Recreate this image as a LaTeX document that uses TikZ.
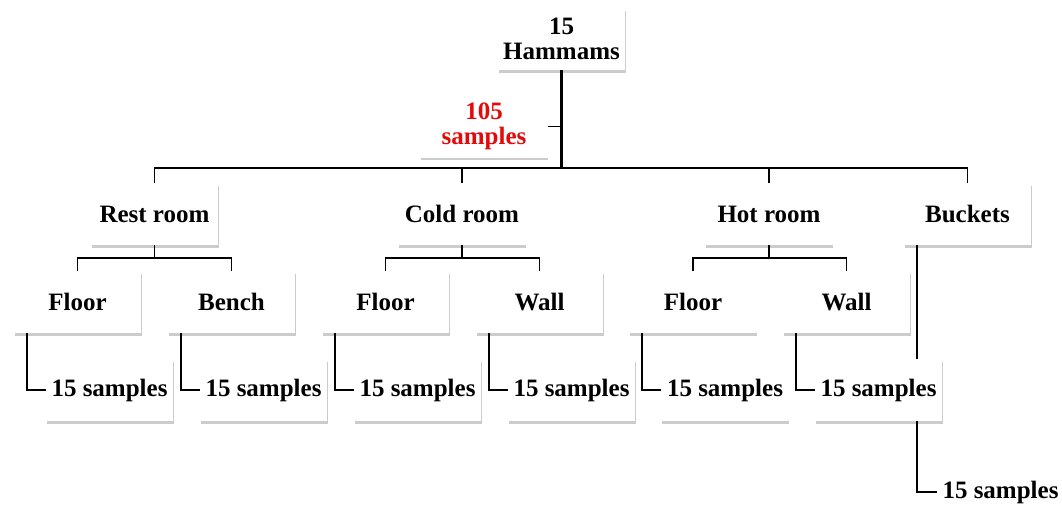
\documentclass[tikz,border=0pt]{standalone}
\usepackage{fontspec}
\setmainfont{Liberation Serif}
\usetikzlibrary{shadows,calc}
\definecolor{sampred}{RGB}{228,10,10}
\begin{document}
\begin{tikzpicture}[x=1pt,y=-1pt,
  box/.style={fill=white,minimum width=127pt,minimum height=62pt,inner sep=0pt,align=center,
    font=\fontsize{25}{25}\selectfont\bfseries,
    drop shadow={shadow xshift=0.6pt,shadow yshift=-2.6pt,opacity=0.2,fill=black}},
  link/.style={line width=1.7pt}]
\useasboundingbox (0,0) rectangle (1062,519);
\node[box] (hammams) at (561.5,39) {15\\Hammams};
\node[box,text=sampred] (total) at (484,126.5) {105\\samples};
\coordinate (bus) at (561.5,168);

\node[box] (rest) at (154.5,214) {Rest room};
\node[box] (cold) at (462,214) {Cold room};
\node[box] (hot) at (769,214) {Hot room};
\node[box] (buckets) at (967.5,214) {Buckets};

\node[box] (restfloor) at (77.5,302) {Floor};
\node[box] (bench) at (231.5,302) {Bench};
\node[box] (coldfloor) at (385.5,302) {Floor};
\node[box] (coldwall) at (539.5,302) {Wall};
\node[box] (hotfloor) at (693,302) {Floor};
\node[box] (hotwall) at (846.5,302) {Wall};

\node[box] (s1) at (109.5,390) {15 samples};
\node[box] (s2) at (263.5,390) {15 samples};
\node[box] (s3) at (417.5,390) {15 samples};
\node[box] (s4) at (571.5,390) {15 samples};
\node[box] (s5) at (725,390) {15 samples};
\node[box] (s6) at (878.5,390) {15 samples};
\node[box] (s7) at (1000.5,492) {15 samples};

\draw[line width=2.6pt] (hammams.south) -- (bus);
\draw[link] (total.east) -- (total.east -| bus);
\draw[link] (rest.north) |- (bus) -| (buckets.north);
\draw[link] (cold.north) -- (cold.north |- bus);
\draw[link] (hot.north) -- (hot.north |- bus);

\coordinate (restj) at ($(rest.south)+(0,13)$);
\coordinate (coldj) at ($(cold.south)+(0,13)$);
\coordinate (hotj) at ($(hot.south)+(0,13)$);
\draw[link] (rest.south) -- (restj);
\draw[link] (restfloor.north) |- (restj) -| (bench.north);
\draw[link] (cold.south) -- (coldj);
\draw[link] (coldfloor.north) |- (coldj) -| (coldwall.north);
\draw[link] (hot.south) -- (hotj);
\draw[link] (hotfloor.north) |- (hotj) -| (hotwall.north);

\draw[link] ([xshift=13pt]restfloor.south west) |- (s1.west);
\draw[link] ([xshift=13pt]bench.south west) |- (s2.west);
\draw[link] ([xshift=13pt]coldfloor.south west) |- (s3.west);
\draw[link] ([xshift=13pt]coldwall.south west) |- (s4.west);
\draw[link] ([xshift=13pt]hotfloor.south west) |- (s5.west);
\draw[link] ([xshift=13pt]hotwall.south west) |- (s6.west);

\coordinate (bucketl) at ([xshift=13pt]buckets.south west);
\draw[link] (bucketl) -- (bucketl |- s6.north);
\draw[link] (bucketl |- s6.south) |- (s7.west);
\end{tikzpicture}
\end{document}
